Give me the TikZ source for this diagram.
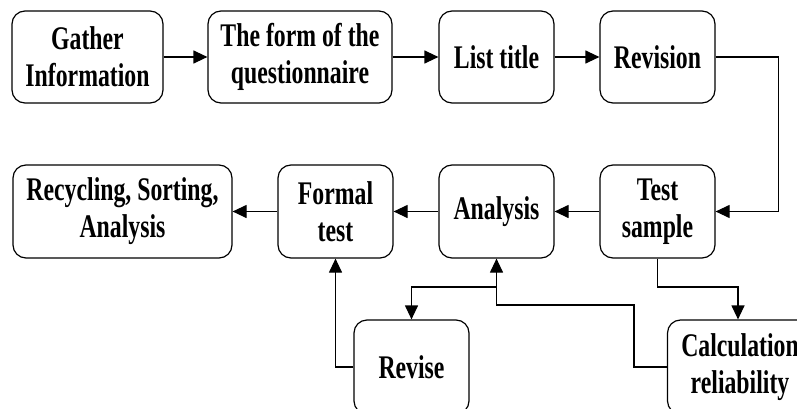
\documentclass[tikz,border=0pt]{standalone}
\usepackage{fontspec}
\setmainfont[FakeStretch=0.72]{Liberation Serif}
\usetikzlibrary{arrows.meta}
\begin{document}
\begin{tikzpicture}[x=1pt,y=-1pt,
  box/.style={draw, line width=1.2pt, rounded corners=13pt, align=center, inner sep=0pt,
    font=\fontsize{33}{37}\selectfont\bfseries},
  arr/.style={line width=1.2pt, -{Triangle[length=14pt,width=13pt]}},
  ln/.style={line width=1.2pt}]
\useasboundingbox (0,0) rectangle (797,409);
\clip (0,0) rectangle (797,409);
\node[box, minimum width=151pt, minimum height=92pt] (gather) at (87.5,57) {Gather\\Information};
\node[box, minimum width=184pt, minimum height=92pt] (form) at (300,57) {The form of the\\questionnaire};
\node[box, minimum width=115pt, minimum height=92pt] (list) at (496.5,57) {List title};
\node[box, minimum width=115pt, minimum height=92pt] (rev) at (657.5,57) {Revision};
\node[box, minimum width=115pt, minimum height=93pt] (test) at (657.5,211.5) {Test\\sample};
\node[box, minimum width=115pt, minimum height=93pt] (anal) at (496.5,211.5) {Analysis};
\node[box, minimum width=115pt, minimum height=93pt] (formal) at (335.5,211.5) {Formal\\test};
\node[box, minimum width=219pt, minimum height=93pt] (recyc) at (122.5,211.5) {Recycling, Sorting,\\Analysis};
\node[box, minimum width=115pt, minimum height=94pt] (revise) at (411.5,367) {Revise};
\node[box, minimum width=145pt, minimum height=94pt] (calc) at (740,367) {Calculation\\reliability};
\coordinate (c1) at (738,287);
\coordinate (j1) at (634,305);
\coordinate (j2) at (496.5,287);
\draw[arr] (gather) -- (form);
\draw[arr] (form) -- (list);
\draw[arr] (list) -- (rev);
\draw[arr] (rev.east) -- ++(63,0) |- (test.east);
\draw[arr] (test) -- (anal);
\draw[arr] (anal) -- (formal);
\draw[arr] (formal) -- (recyc);
\draw[arr] (test.south) |- (c1) -- (c1 |- calc.north);
\draw[arr] (revise.west) -| (formal.south);
\draw[arr] (calc.west) -| (j1) -| (anal.south);
\draw[arr] (j2) -| (revise.north);
\end{tikzpicture}
\end{document}
